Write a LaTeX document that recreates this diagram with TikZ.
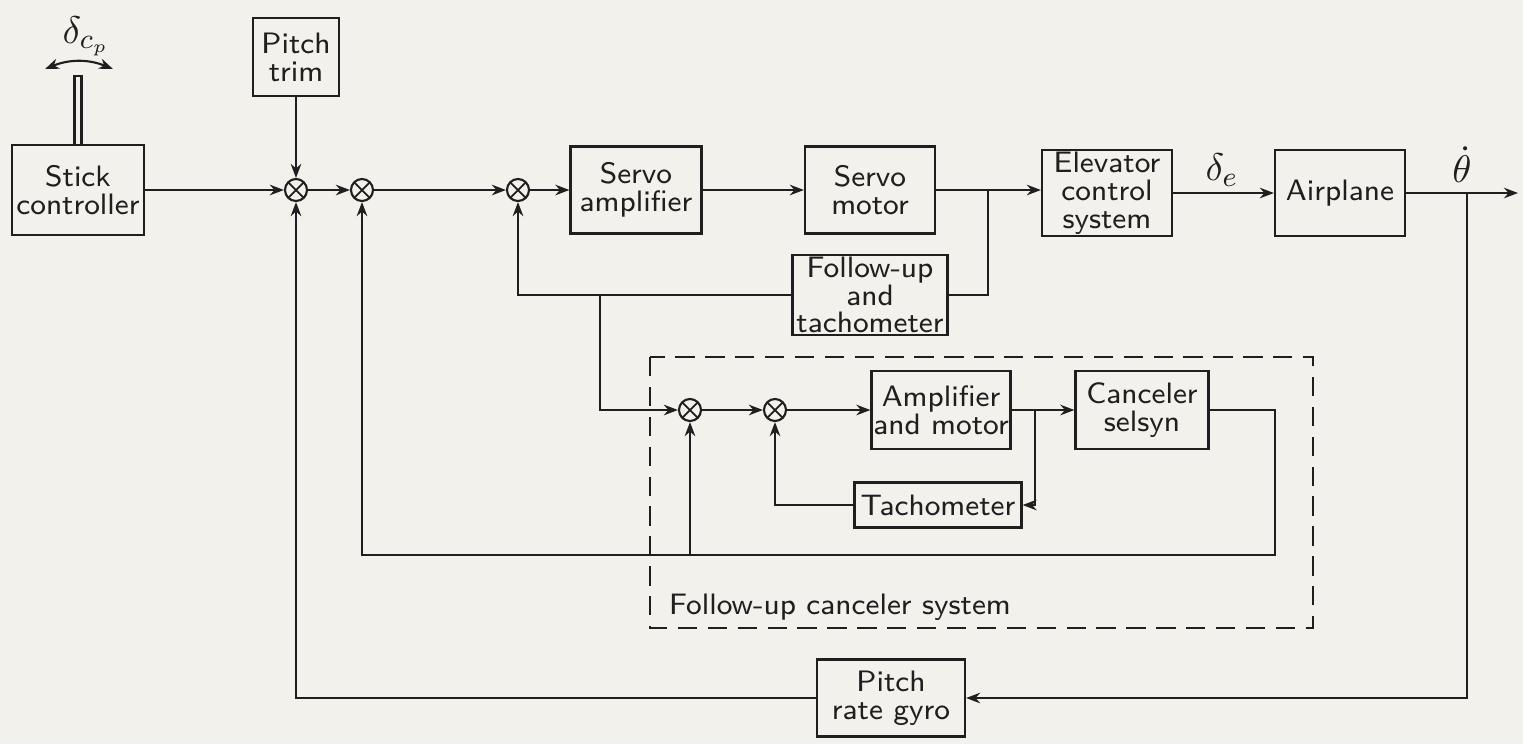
\documentclass[tikz,border=0pt]{standalone}
\usepackage{amsmath,amssymb}
\usetikzlibrary{arrows.meta}
\definecolor{paper}{rgb}{0.953,0.945,0.925}
\definecolor{ink}{gray}{0.12}
\newcommand{\blkfont}{\fontsize{8.4}{7.9}\selectfont\sffamily}
\tikzset{
  blk/.style={draw=ink,rectangle,align=center,inner sep=0pt,font=\blkfont,text=ink},
  sumj/.style={draw=ink,circle,inner sep=0pt,minimum size=0.22cm,
    path picture={\draw[ink,line width=0.5pt] (path picture bounding box.north west)--(path picture bounding box.south east)
      (path picture bounding box.north east)--(path picture bounding box.south west);}},
  sig/.style={-{Stealth[length=4pt,width=3pt]}},
  lab/.style={font=\fontsize{11}{11}\selectfont,text=ink,inner sep=1pt},
  grp/.style={draw=ink,dash pattern=on 5.5pt off 3pt},
}

\begin{document}
\begin{tikzpicture}[x=0.01cm,y=-0.01cm,line width=0.6pt,draw=ink]
  \fill[paper] (0,0) rectangle (1523,744);
  \useasboundingbox (0,0) rectangle (1523,744);
  \node[blk,minimum width=1.32cm,minimum height=0.90cm] (stick) at (78,190) {Stick\\controller};
  \node[blk,minimum width=0.86cm,minimum height=0.78cm] (trim) at (296,57) {Pitch\\trim};
  \node[sumj] (j1) at (296,190) {};
  \node[sumj] (j2) at (362,190) {};
  \node[sumj] (j3) at (518,190) {};
  \node[blk,minimum width=1.31cm,minimum height=0.87cm] (samp) at (636,190) {Servo\\amplifier};
  \node[blk,minimum width=1.30cm,minimum height=0.87cm] (smot) at (870,190) {Servo\\motor};
  \node[blk,minimum width=1.30cm,minimum height=0.86cm] (elev) at (1107,193) {Elevator\\control\\system};
  \node[blk,minimum width=1.30cm,minimum height=0.86cm] (plane) at (1340,193) {Airplane};
  \node[blk,minimum width=1.55cm,minimum height=0.80cm] (fup) at (870,295) {Follow-up\\and\\tachometer};
  \node[sumj] (j4) at (690,410) {};
  \node[sumj] (j5) at (775,410) {};
  \node[blk,minimum width=1.39cm,minimum height=0.78cm] (amot) at (941,410) {Amplifier\\and motor};
  \node[blk,minimum width=1.33cm,minimum height=0.78cm] (csel) at (1142,410) {Canceler\\selsyn};
  \node[blk,minimum width=1.67cm,minimum height=0.45cm] (tacho) at (938,505) {Tachometer};
  \node[blk,minimum width=1.48cm,minimum height=0.77cm] (gyro) at (891,698) {Pitch\\rate gyro};
  \node[blk,draw=none] (fcs) at (840,607) {Follow-up canceler system};
  \node[lab] (dcp) at (86,36) {$\delta_{c_p}$};
  \node[lab] (de) at (1222,170) {$\delta_e$};
  \node[lab] (thd) at (1462,165) {$\dot{\theta}$};
  \coordinate (ltop) at (78,76);
  \coordinate (out) at (1518,193);
  \coordinate (tapa) at (1467,193);
  \coordinate (tapb) at (988,190);
  \coordinate (tapc) at (600,295);
  \coordinate (tapd) at (1035,410);
  \coordinate (cc) at (1275,555);
  \coordinate (tape) at (690,555);
  \draw[grp] (650,357) rectangle (1313,628);
  \draw ([xshift=-0.035cm]stick.north) -- ([xshift=-0.035cm]ltop) -- ([xshift=0.035cm]ltop) -- ([xshift=0.035cm]stick.north);
  \draw[{Stealth[length=4pt,width=3pt]}-{Stealth[length=4pt,width=3pt]}] (45,69) to[bend left=22] (113,69);
  \draw[sig] (stick) -- (j1);
  \draw[sig] (trim) -- (j1);
  \draw[sig] (j1) -- (j2);
  \draw[sig] (j2) -- (j3);
  \draw[sig] (j3) -- (samp);
  \draw[sig] (samp) -- (smot);
  \draw[sig] (smot.east) -- (elev.west |- smot.east);
  \draw[sig] (elev) -- (plane);
  \draw[sig] (plane) -- (out);
  \draw (tapb) |- (fup.east);
  \draw[sig] (fup.west) -| (j3.south);
  \draw[sig] (tapc) |- (j4);
  \draw[sig] (j4) -- (j5);
  \draw[sig] (j5) -- (amot);
  \draw[sig] (amot) -- (csel);
  \draw[sig] (tapd) |- (tacho.east);
  \draw[sig] (tacho.west) -| (j5.south);
  \draw[sig] (csel.east) -| (cc) -| (j2.south);
  \draw[sig] (tape) -- (j4.south);
  \draw[sig] (tapa) |- (gyro.east);
  \draw[sig] (gyro.west) -| (j1.south);
\end{tikzpicture}
\end{document}
